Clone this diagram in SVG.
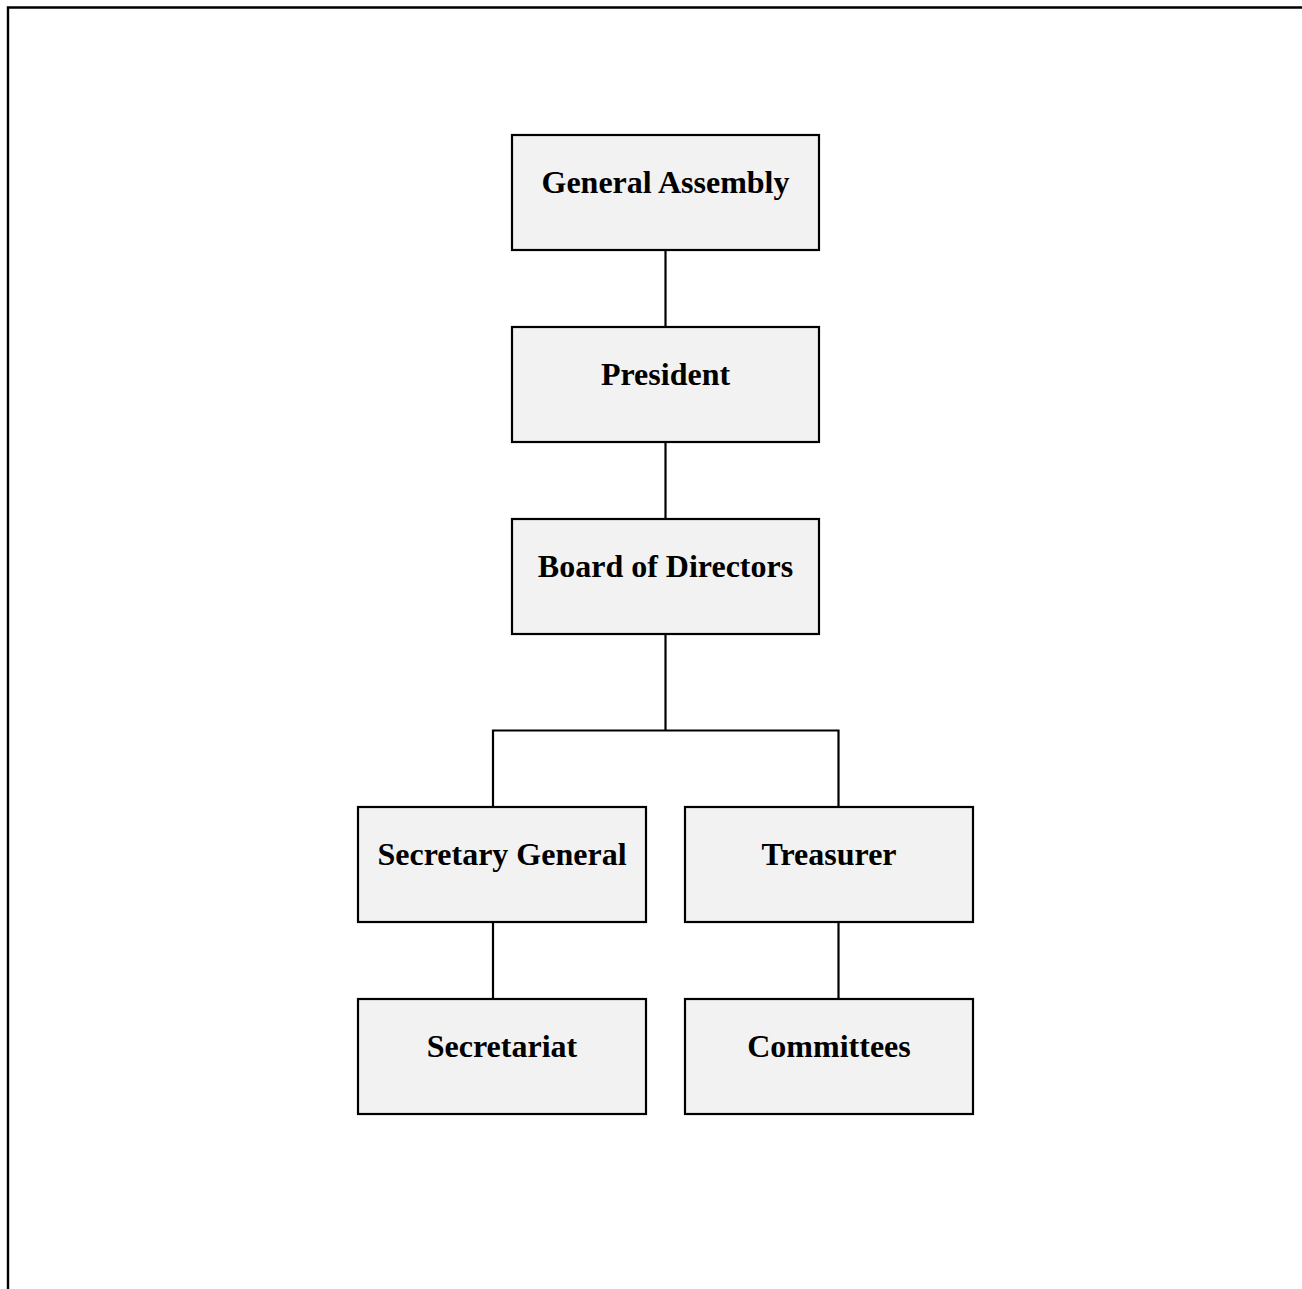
<svg xmlns="http://www.w3.org/2000/svg" width="1302" height="1289" viewBox="0 0 1302 1289">
<style>
.box{fill:#f2f2f2;stroke:#000;stroke-width:2.2}
.lbl{font-family:"Liberation Serif","Times New Roman",serif;font-weight:bold;font-size:32px;fill:#000;text-anchor:middle}
.con{fill:none;stroke:#000;stroke-width:2.2}
.frame{fill:none;stroke:#000;stroke-width:2.4}
</style>
<rect width="1302" height="1289" fill="#fff"/>
<path class="frame" d="M8,1289 V7.5 H1302"/>
<g id="connectors">
<path class="con" d="M665.5,250 V327"/>
<path class="con" d="M665.5,442 V519"/>
<path class="con" d="M665.5,634 V730.5"/>
<path class="con" d="M493,807 V730.5 H838.5 V807"/>
<path class="con" d="M493,922 V999"/>
<path class="con" d="M838.5,922 V999"/>
</g>
<g id="general-assembly"><rect class="box" x="512" y="135" width="307" height="115"/><text class="lbl" x="665.5" y="193">General Assembly</text></g>
<g id="president"><rect class="box" x="512" y="327" width="307" height="115"/><text class="lbl" x="665.5" y="385">President</text></g>
<g id="board-of-directors"><rect class="box" x="512" y="519" width="307" height="115"/><text class="lbl" x="665.5" y="577">Board of Directors</text></g>
<g id="secretary-general"><rect class="box" x="358" y="807" width="288" height="115"/><text class="lbl" x="502" y="865">Secretary General</text></g>
<g id="treasurer"><rect class="box" x="685" y="807" width="288" height="115"/><text class="lbl" x="829" y="865">Treasurer</text></g>
<g id="secretariat"><rect class="box" x="358" y="999" width="288" height="115"/><text class="lbl" x="502" y="1057">Secretariat</text></g>
<g id="committees"><rect class="box" x="685" y="999" width="288" height="115"/><text class="lbl" x="829" y="1057">Committees</text></g>
</svg>
